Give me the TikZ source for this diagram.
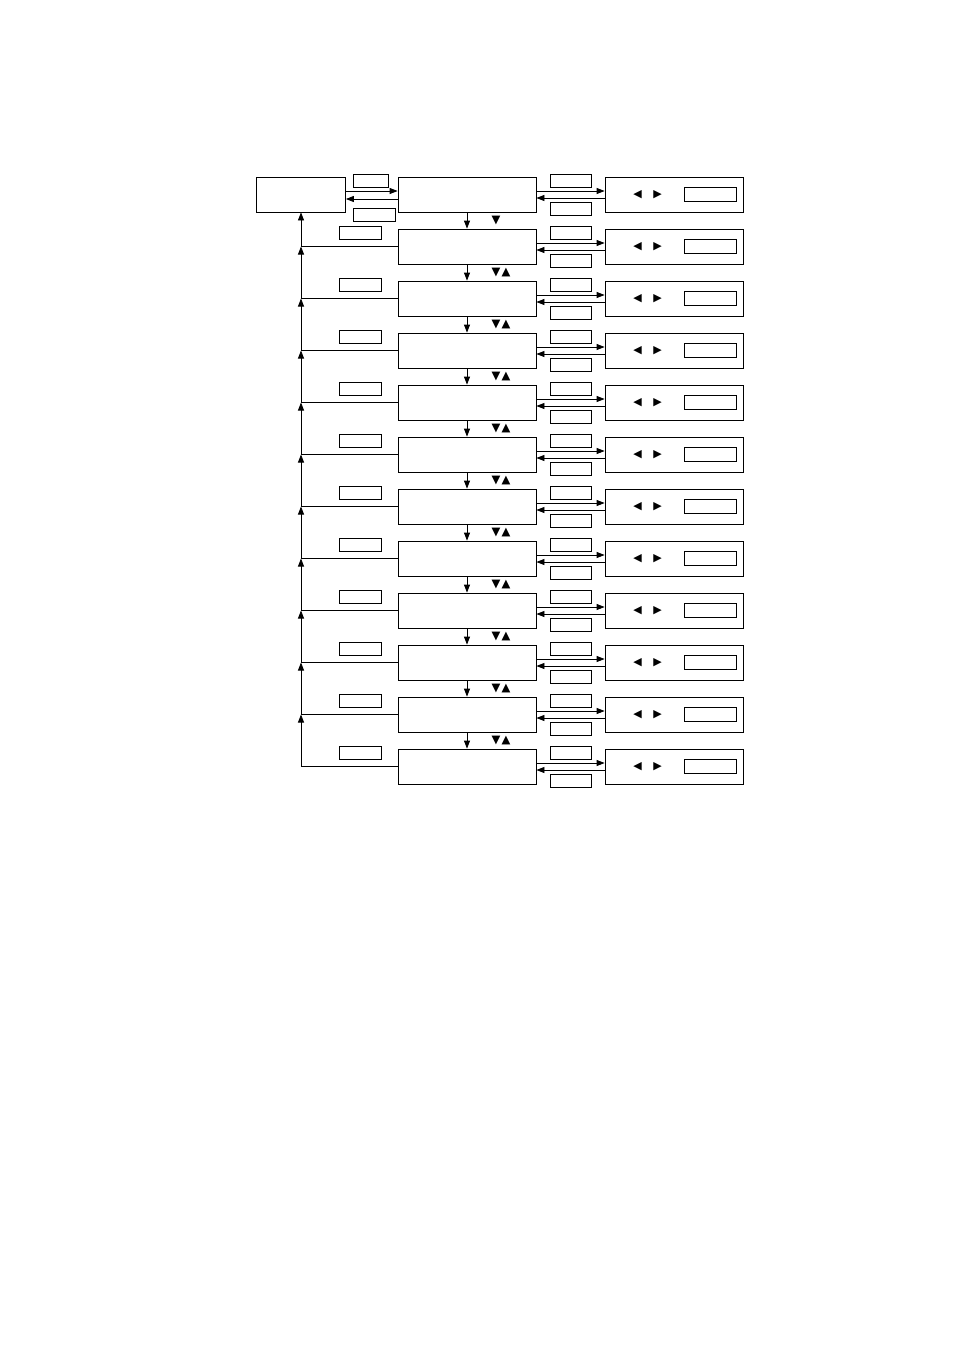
\documentclass[tikz,border=0pt]{standalone}
\usepackage{fontspec}
\newfontfamily\symfont{DejaVu Sans}
\usetikzlibrary{arrows.meta}

\begin{document}
\begin{tikzpicture}[x=1pt, y=-1pt, line width=0.8pt,
        box/.style={draw, rectangle, minimum width=138pt, minimum height=35pt, inner sep=0pt},
        tag/.style={draw, rectangle, minimum width=41pt, minimum height=13pt, inner sep=0pt},
        sym/.style={font=\symfont\fontsize{11.5}{11.5}\selectfont, inner sep=0pt},
        arr/.style={-{Triangle[length=8pt,width=6pt]}}]

        \useasboundingbox (0,0) rectangle (955,1350);

        % Home box and its two keys
        \node[box, minimum width=89pt] (home) at (301,194.5) {};
        \node[tag, minimum width=35pt] (homeup) at (370.5,181) {};
        \node[tag, minimum width=42pt] (homedown) at (374.5,215) {};

        % Menu rows with their setting boxes
        \foreach \i in {1,...,12} {
            \pgfmathsetmacro{\c}{194.5+(\i-1)*52}
            \node[box] (menu\i) at (467,\c) {};
            \node[box] (set\i) at (674,\c) {};
            \node[draw, minimum width=52pt, minimum height=14pt, inner sep=0pt] (val\i) at (710,\c) {};
            \node[sym, font=\symfont\fontsize{11}{11}\selectfont] (lt\i) at (637.5,\c) {◀};
            \node[sym, font=\symfont\fontsize{11}{11}\selectfont] (rt\i) at (657.5,\c) {▶};
            % keys between menu and setting
            \node[tag] (enter\i) at (570.5,\c-14) {};
            \node[tag] (back\i) at (570.5,\c+14) {};
        }

        % Menu <-> setting arrows
        \foreach \i in {1,...,12} {
            \draw[arr] ([yshift=3.5pt]menu\i.east) -- ([yshift=3.5pt]set\i.west);
            \draw[arr] ([yshift=-3.5pt]set\i.west) -- ([yshift=-3.5pt]menu\i.east);
        }

        % Home <-> first menu
        \draw[arr] ([yshift=3.5pt]home.east) -- ([yshift=3.5pt]menu1.west);
        \draw[arr] ([yshift=-4.5pt]menu1.west) -- ([yshift=-4.5pt]home.east);

        % Down the menu list
        \foreach \i [evaluate=\i as \n using int(\i+1)] in {1,...,11} {
            \draw[arr] (menu\i) -- (menu\n);
        }
        \node[sym] (dn1) at (496,220.5) {▼};
        \foreach \i in {2,...,11} {
            \pgfmathsetmacro{\g}{220.5+(\i-1)*52}
            \node[sym] (dn\i) at (496,\g) {▼};
            \node[sym] (up\i) at (506,\g) {▲};
        }

        % Return path to home
        \foreach \i in {2,...,12} {
            \pgfmathsetmacro{\c}{194.5+(\i-1)*52}
            \coordinate (j\i) at (301,\c);
            \node[tag, minimum width=42pt] (esc\i) at (360,\c-14) {};
            \draw (menu\i.west) -- (j\i);
        }
        \foreach \i [evaluate=\i as \n using int(\i+1)] in {2,...,11} {
            \draw[arr] (j\n) -- (j\i);
        }
        \draw[arr] (j2) -- (home);
\end{tikzpicture}
\end{document}
